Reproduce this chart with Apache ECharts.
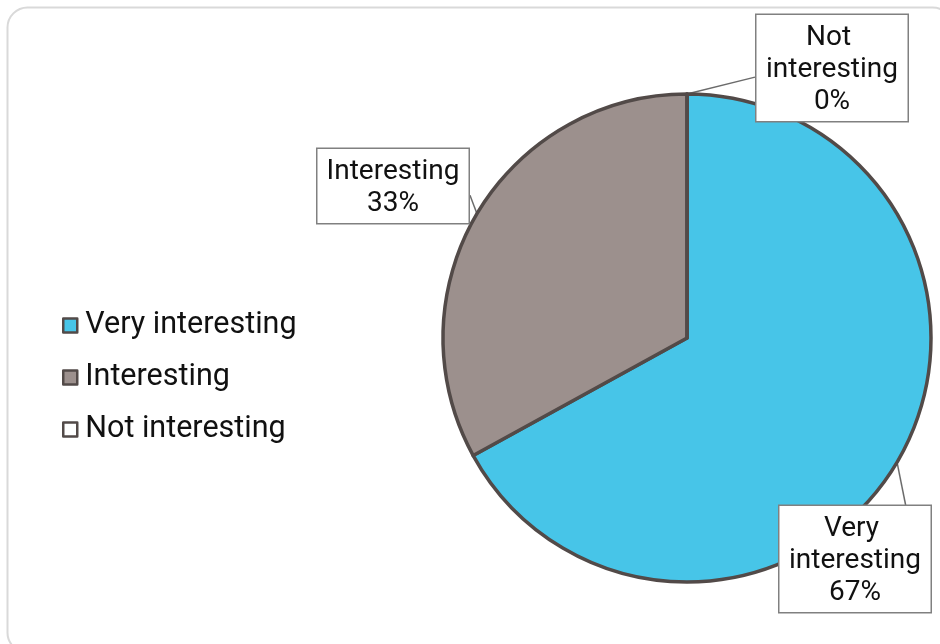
<!DOCTYPE html>
<html>
<head>
<meta charset="utf-8">
<script src="https://cdn.jsdelivr.net/npm/echarts@6/dist/echarts.min.js"></script>
<style>
html,body{margin:0;padding:0;background:#fff;}
#chart{width:940px;height:644px;}
</style>
</head>
<body>
<div id="chart"></div>
<script>
// Survey answers and their shares (percent)
const categories = ['Very interesting', 'Interesting', 'Not interesting'];
const shares = [67, 33, 0];
const sliceColors = ['#47C5E8', '#9C908D', '#FFFFFF'];

// Where each callout box sits (top-left) and where its leader line meets the box
const calloutBoxes = [
  { x: 778, y: 506, side: 'top', t: 0.83 },
  { x: 316, y: 149, side: 'right', t: 0.60 },
  { x: 755, y: 15, side: 'left', t: 0.57 }
];

const FONT = 'Roboto, "Noto Sans", sans-serif';
const chart = echarts.init(document.getElementById('chart'), null, { renderer: 'canvas' });

function edgePoint(box, w, h) {
  switch (box.side) {
    case 'top': return [box.x + w * box.t, box.y];
    case 'bottom': return [box.x + w * box.t, box.y + h];
    case 'left': return [box.x, box.y + h * box.t];
    default: return [box.x + w, box.y + h * box.t];
  }
}

chart.setOption({
  animation: false,
  backgroundColor: '#ffffff',
  graphic: [{
    type: 'rect',
    z: -10,
    silent: true,
    shape: { x: 7.5, y: 7.5, width: 945, height: 645, r: 20 },
    style: { fill: '#ffffff', stroke: '#d9d9d9', lineWidth: 2 }
  }],
  legend: {
    orient: 'vertical',
    left: 57,
    top: 305,
    itemWidth: 14,
    itemHeight: 14,
    itemGap: 21,
    icon: 'rect',
    itemStyle: { borderColor: '#524a48', borderWidth: 2.5 },
    textStyle: {
      fontFamily: FONT, fontSize: 30.5, color: '#111', lineHeight: 31,
      padding: [0, 0, 0, 3]
    },
    data: categories
  },
  series: [{
    type: 'pie',
    center: [687, 338],
    radius: [0, 244],
    startAngle: 90,
    clockwise: true,
    avoidLabelOverlap: false,
    minAngle: 0,
    itemStyle: { borderColor: '#524a48', borderWidth: 3.5 },
    label: {
      show: true,
      position: 'outside',
      formatter: '{b}\n{d}%',
      fontFamily: FONT,
      fontSize: 28,
      lineHeight: 32,
      color: '#111',
      align: 'center',
      width: 141,
      overflow: 'break',
      backgroundColor: '#ffffff',
      borderColor: '#808080',
      borderWidth: 1.5,
      padding: [7, 5, 3, 5]
    },
    labelLine: {
      show: true,
      length: 10,
      length2: 10,
      lineStyle: { color: '#6b6b6b', width: 1.5 }
    },
    labelLayout: function (params) {
      const box = calloutBoxes[params.dataIndex];
      const w = params.labelRect.width;
      const h = params.labelRect.height;
      const anchor = params.labelLinePoints ? params.labelLinePoints[0] : [box.x, box.y];
      return {
        x: box.x + w / 2,
        y: box.y,
        align: 'center',
        verticalAlign: 'top',
        labelLinePoints: [anchor, edgePoint(box, w, h), edgePoint(box, w, h)]
      };
    },
    emphasis: { disabled: true },
    data: categories.map((name, i) => ({
      name: name,
      value: shares[i],
      itemStyle: { color: sliceColors[i] }
    }))
  }]
});
</script>
</body>
</html>
